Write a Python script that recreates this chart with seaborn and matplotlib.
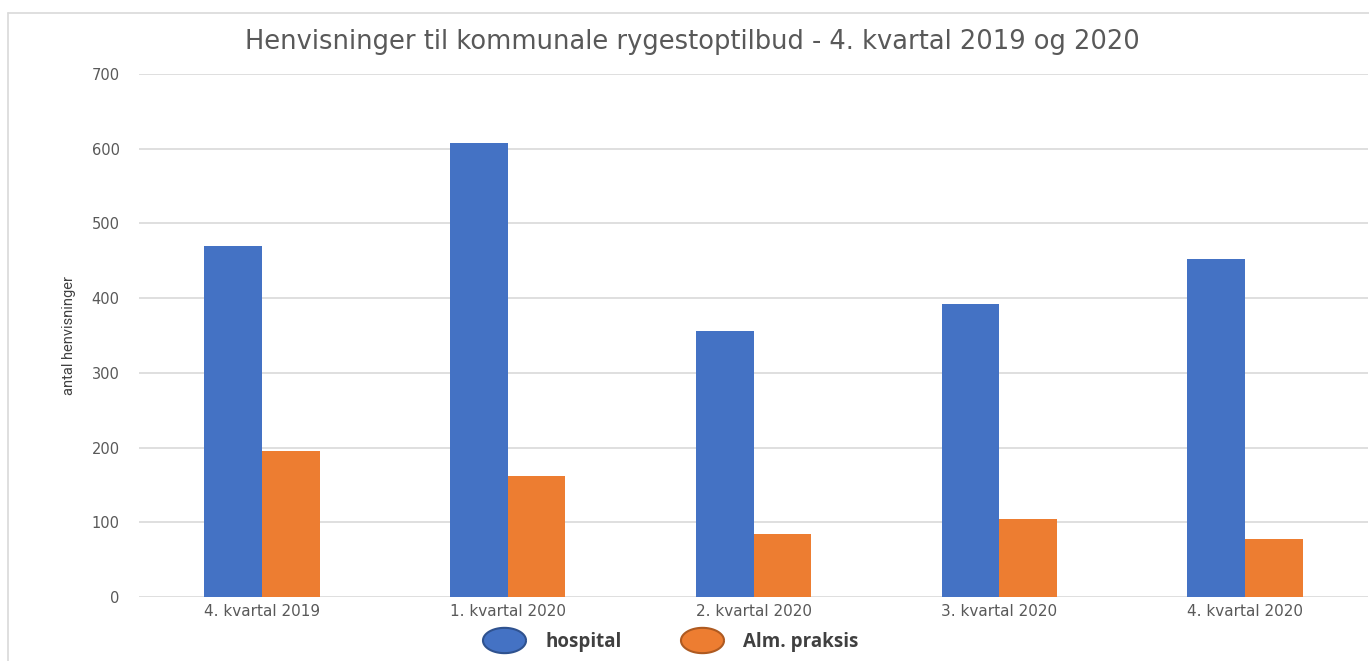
import matplotlib
matplotlib.use("Agg")
import matplotlib.pyplot as plt
import seaborn as sns
import pandas as pd
import numpy as np
from matplotlib.path import Path
from matplotlib.lines import Line2D

categories = ["4. kvartal 2019", "1. kvartal 2020", "2. kvartal 2020", "3. kvartal 2020", "4. kvartal 2020"]
hospital = [470, 608, 356, 392, 452]
alm_praksis = [195, 162, 84, 104, 78]
series_names = ["hospital", "Alm. praksis"]
colors = ["#4472C4", "#ED7D31"]
edge_colors = ["#2F528F", "#AE5A21"]
yticks = [0, 100, 200, 300, 400, 500, 600, 700]

df = pd.DataFrame({
    "kvartal": categories * 2,
    "serie": [series_names[0]] * len(categories) + [series_names[1]] * len(categories),
    "antal": hospital + alm_praksis,
})

sns.set_theme(style="white")
plt.rcParams["font.family"] = ["DejaVu Sans"]

fig = plt.figure(figsize=(13.69, 6.61), dpi=100)
ax = fig.add_axes([139 / 1369, 1 - 597 / 661, (1368 - 139) / 1369, (597 - 74) / 661])

sns.barplot(data=df, x="kvartal", y="antal", hue="serie", palette=colors,
            width=0.47, gap=0, saturation=1, ax=ax, legend=False, linewidth=0)

ax.set_ylim(0, 700)
ax.set_yticks(yticks)
ax.set_yticklabels([str(t) for t in yticks], color="#595959", fontsize=10.5)
ax.tick_params(axis="x", labelsize=11, labelcolor="#595959", length=0, pad=5)
ax.tick_params(axis="y", length=0, pad=14)
ax.set_xlabel("")
ax.set_ylabel("antal henvisninger", fontsize=10.5, color="#404040",
              family=["Roboto", "DejaVu Sans"])
ax.yaxis.set_label_coords(-(139 - 76) / 1229, 0.5)
ax.yaxis.grid(True, color="#D9D9D9", linewidth=1.2)
ax.set_axisbelow(True)
for s in ax.spines.values():
    s.set_visible(False)

fig.text(692 / 1369, 1 - 42 / 661, "Henvisninger til kommunale rygestoptilbud - 4. kvartal 2019 og 2020",
         ha="center", va="center", fontsize=18.5, color="#595959")

# ellipse legend markers
theta = np.linspace(0, 2 * np.pi, 60)
ell = Path(np.column_stack([1.7 * np.cos(theta), np.sin(theta)]))
handles = [Line2D([], [], linestyle="none", marker=ell, markersize=31,
                  markerfacecolor=c, markeredgecolor=e, markeredgewidth=1.5)
           for c, e in zip(colors, edge_colors)]
leg = fig.legend(handles, series_names, loc="center", bbox_to_anchor=(672 / 1369, 1 - 642 / 661),
                 ncol=2, frameon=False, columnspacing=3.3, handletextpad=1.2,
                 prop={"family": ["Open Sans", "DejaVu Sans"], "weight": "bold", "size": 13.5})
for t in leg.get_texts():
    t.set_color("#404040")

# outer chart border
fig.add_artist(Line2D([8 / 1369, 8 / 1369], [0, 1 - 13 / 661], transform=fig.transFigure,
                      color="#D9D9D9", linewidth=1.2))
fig.add_artist(Line2D([8 / 1369, 1], [1 - 13 / 661, 1 - 13 / 661], transform=fig.transFigure,
                      color="#D9D9D9", linewidth=1.2))

fig.savefig("out.png", dpi=100)
